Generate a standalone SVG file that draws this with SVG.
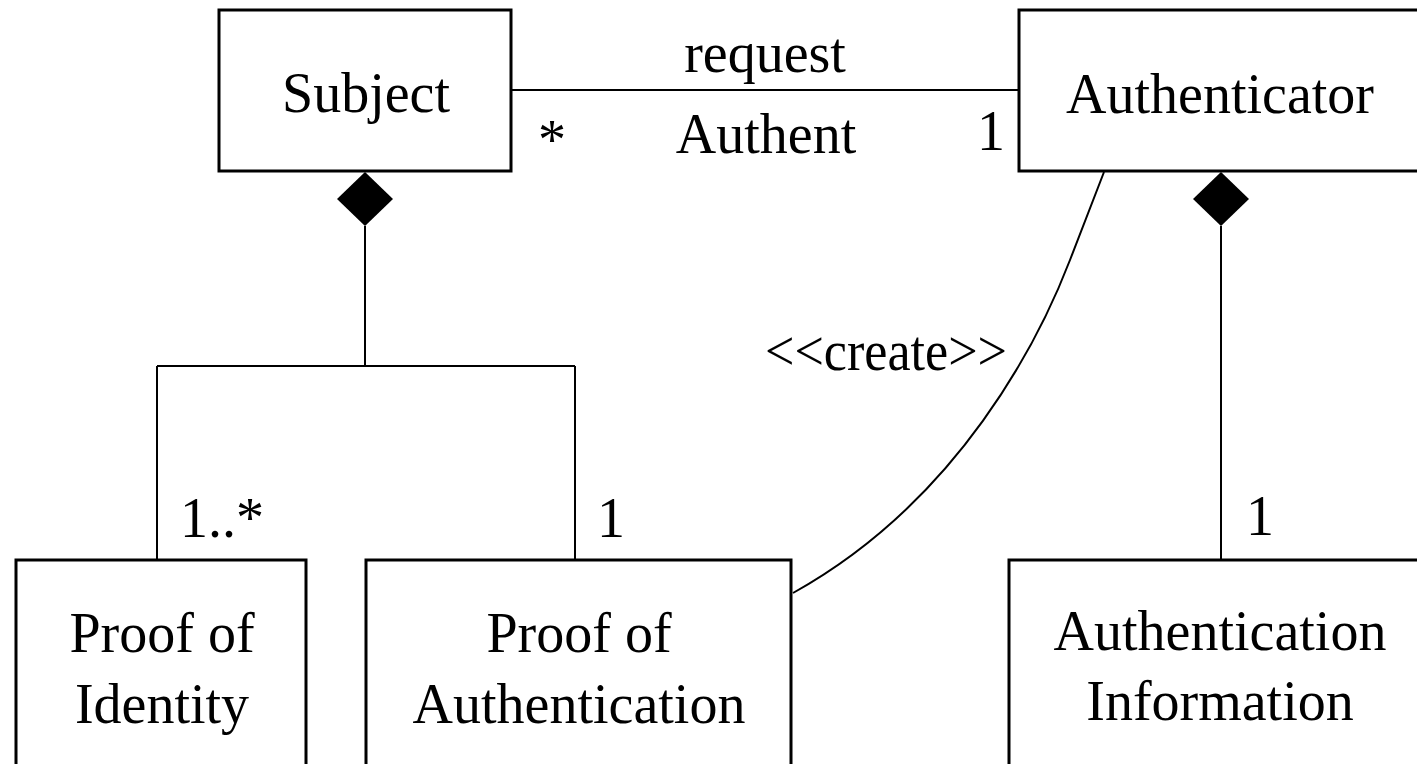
<svg xmlns="http://www.w3.org/2000/svg" width="1417" height="764" viewBox="0 0 1417 764">
<style>
.box{fill:#fff;stroke:#000;stroke-width:3}
.t{font-family:"Liberation Serif","Times New Roman",serif;font-size:56px;fill:#000}
.c{text-anchor:middle}
.ln{fill:none;stroke:#000;stroke-width:2}
.dia{fill:#000;stroke:none}
</style>
<rect width="1417" height="764" fill="#fff"/>
<g id="connectors">
<line class="ln" x1="512" y1="90" x2="1019" y2="90"/>
<path class="ln" d="M365,226 V366 M157,366 H575 M157,366 V559 M575,366 V559"/>
<line class="ln" x1="1221" y1="226" x2="1221" y2="559"/>
<path class="ln" d="M1104,172 L1070,260 C1040,338 960,500 793,593"/>
<polygon class="dia" points="365,172 393,199 365,226 337,199"/>
<polygon class="dia" points="1221,172 1249,199 1221,226 1193,199"/>
<text class="t c" x="765" y="72">request</text>
<text class="t c" x="766" y="153">Authent</text>
<text class="t" x="538" y="159">*</text>
<text class="t" x="977" y="150">1</text>
<text class="t" x="765" y="370" textLength="242" lengthAdjust="spacingAndGlyphs">&lt;&lt;create&gt;&gt;</text>
<text class="t" x="180" y="537">1..*</text>
<text class="t" x="597" y="537">1</text>
<text class="t" x="1246" y="535">1</text>
</g>
<g id="subject">
<rect class="box" x="219" y="10" width="292" height="161"/>
<text class="t c" x="366" y="112">Subject</text>
</g>
<g id="authenticator">
<rect class="box" x="1019" y="10" width="403" height="161"/>
<text class="t c" x="1220" y="113">Authenticator</text>
</g>
<g id="proof-of-identity">
<rect class="box" x="16" y="560" width="290" height="220"/>
<text class="t c" x="162" y="652">Proof of</text>
<text class="t c" x="162" y="723">Identity</text>
</g>
<g id="proof-of-authentication">
<rect class="box" x="366" y="560" width="425" height="220"/>
<text class="t c" x="579" y="652">Proof of</text>
<text class="t c" x="579" y="723">Authentication</text>
</g>
<g id="authentication-information">
<rect class="box" x="1009" y="560" width="422" height="220"/>
<text class="t c" x="1220" y="650">Authentication</text>
<text class="t c" x="1220" y="720">Information</text>
</g>
</svg>
